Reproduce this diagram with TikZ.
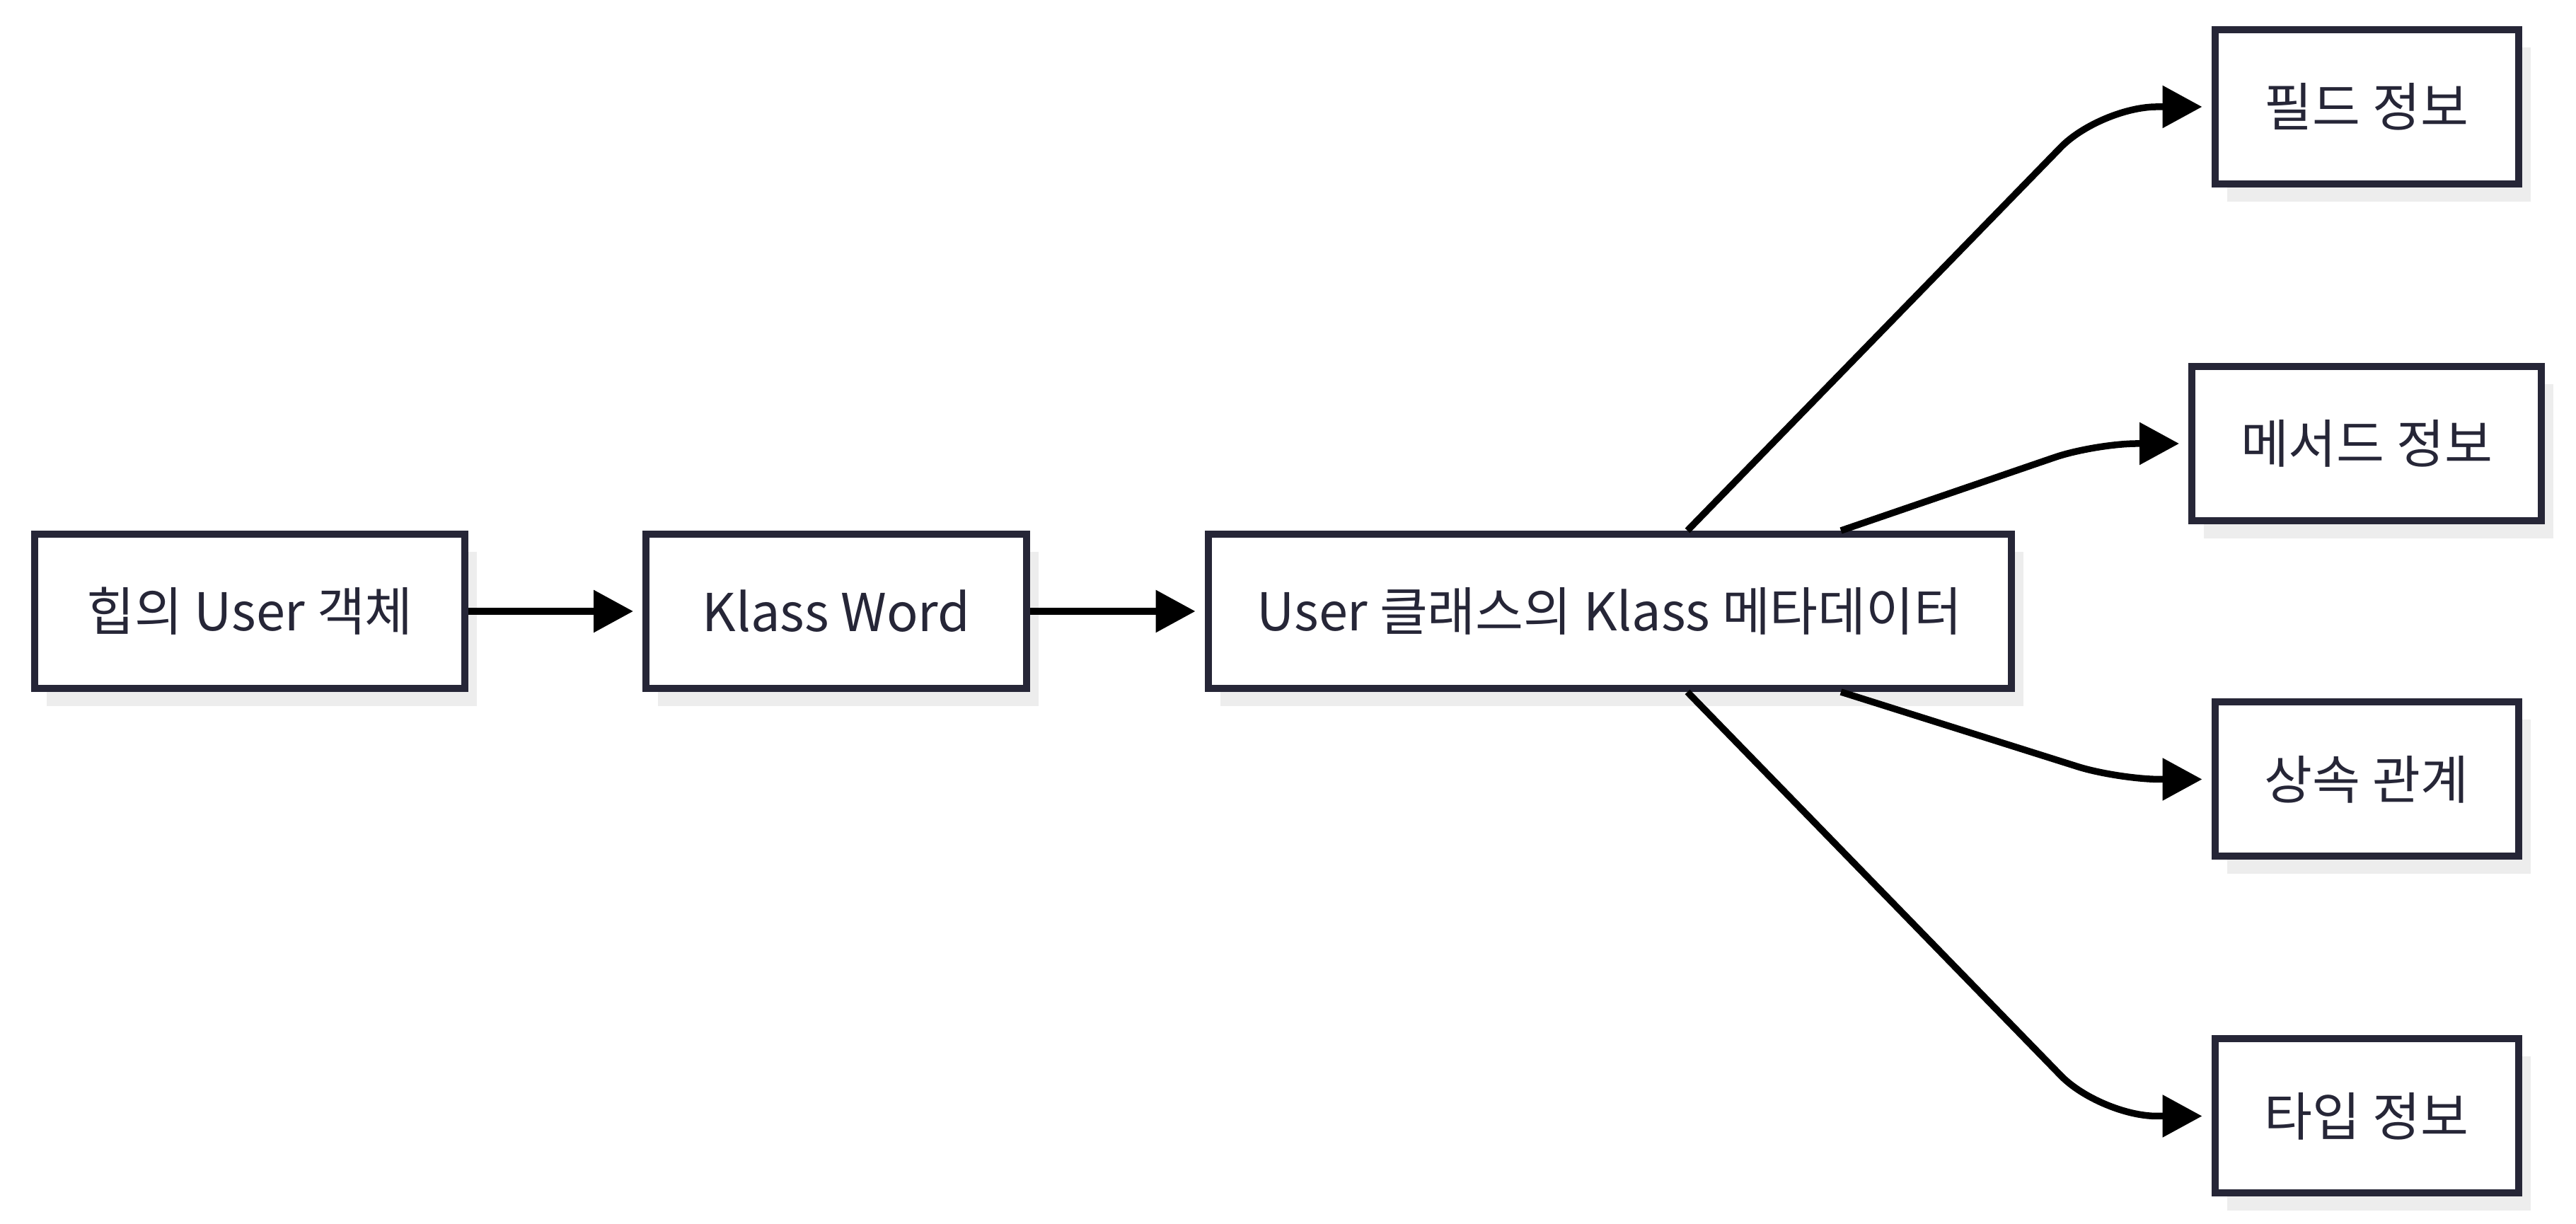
\documentclass[tikz,border=0pt]{standalone}
\usepackage{fontspec}
\setmainfont{Noto Sans CJK KR}
\usetikzlibrary{arrows.meta,shadows}
\definecolor{boxline}{HTML}{262637}
\definecolor{boxshadow}{HTML}{EDEDED}

\begin{document}
\begin{tikzpicture}[
    box/.style={draw=boxline, line width=0.1cm, fill=white, text=boxline,
      minimum height=2.18cm, inner xsep=0pt,
      font=\fontsize{21}{25}\selectfont,
      drop shadow={shadow xshift=0.17cm, shadow yshift=-0.25cm, fill=boxshadow, opacity=1}},
    link/.style={line width=0.095cm, -{Triangle[length=0.56cm,width=0.58cm]}, shorten >=0.13cm}
  ]
     \useasboundingbox (0,0) rectangle (36.41,17.30);

     \def\midy{8.66}
     \def\rightx{33.45}

     % main chain
     \node[box, minimum width=6.08cm] (heap) at (3.53,\midy) {힙의 User 객체};
     \node[box, minimum width=5.38cm] (klassword) at (11.82,\midy) {Klass Word};
     \node[box, minimum width=11.35cm] (meta) at (22.75,\midy) {User 클래스의 Klass 메타데이터};

     % metadata parts
     \node[box, minimum width=4.29cm] (field) at (\rightx,15.79) {필드 정보};
     \node[box, minimum width=4.94cm] (method) at (\rightx,11.03) {메서드 정보};
     \node[box, minimum width=4.29cm] (inherit) at (\rightx,6.285) {상속 관계};
     \node[box, minimum width=4.29cm] (type) at (\rightx,1.525) {타입 정보};

     \draw[link] (heap.east) -- (klassword.west);
     \draw[link] (klassword.east) -- (meta.west);

     \draw[link, rounded corners=0.8cm] ([xshift=1.1cm]meta.north) -- ([xshift=-1.57cm]field.west) -- (field.west);
     \draw[link, rounded corners=0.6cm] ([xshift=3.27cm]meta.north) -- ([xshift=-1.32cm]method.west) -- (method.west);
     \draw[link, rounded corners=0.6cm] ([xshift=3.27cm]meta.south) -- ([xshift=-1.32cm]inherit.west) -- (inherit.west);
     \draw[link, rounded corners=0.8cm] ([xshift=1.1cm]meta.south) -- ([xshift=-1.57cm]type.west) -- (type.west);
\end{tikzpicture}
\end{document}
